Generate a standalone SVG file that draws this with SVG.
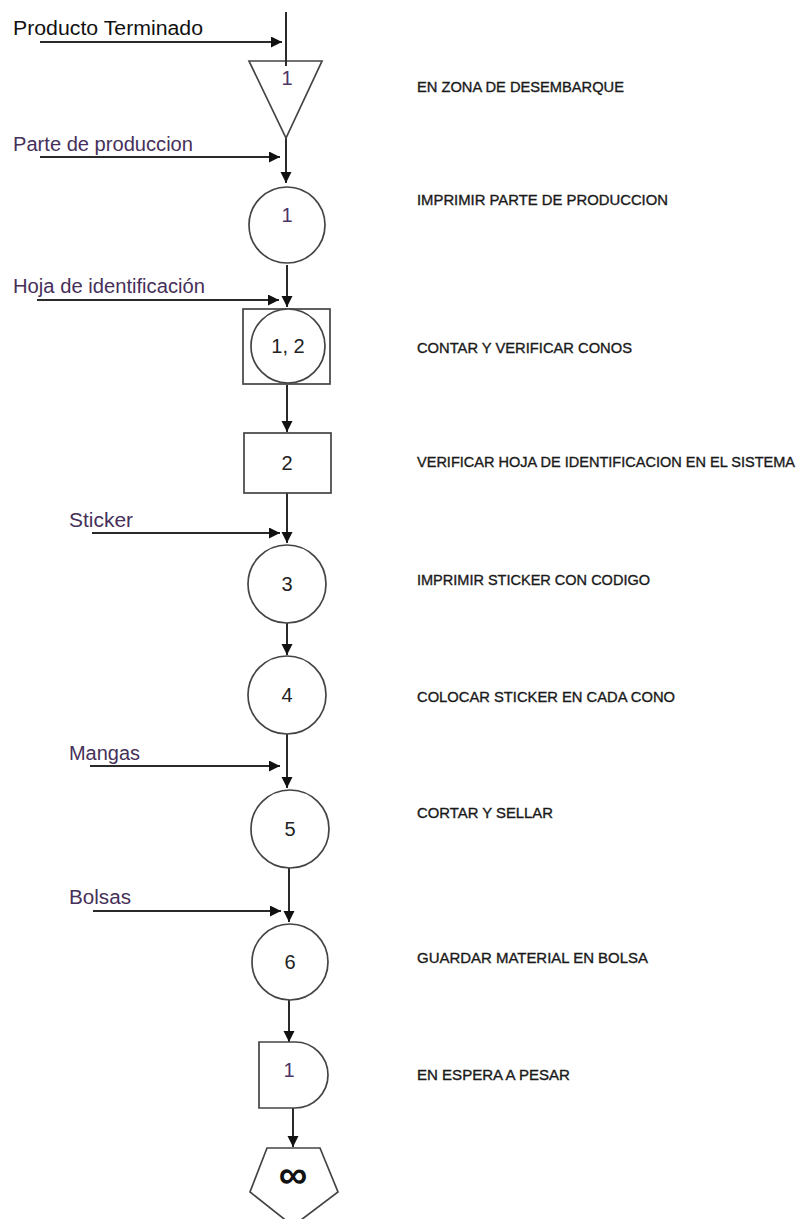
<svg xmlns="http://www.w3.org/2000/svg" width="798" height="1219" viewBox="0 0 798 1219">
  <defs>
    <marker id="arrow" markerWidth="12" markerHeight="12" refX="11" refY="5.5" orient="auto" markerUnits="userSpaceOnUse">
      <path d="M0,0 L11,5.5 L0,11 Z" fill="#111"/>
    </marker>
    <style>
      .shape { fill: #fff; stroke: #444; stroke-width: 1.7; }
      .flow { stroke: #2a2a2a; stroke-width: 2; fill: none; }
      .num { font-family: "Liberation Sans", Arial, sans-serif; font-size: 20px; fill: #222; text-anchor: middle; }
      .input { font-family: "Liberation Sans", Arial, sans-serif; font-size: 20px; fill: #46305a; }
      .desc { font-family: "Liberation Sans", Arial, sans-serif; font-size: 14.5px; fill: #1a1a1a; stroke: #1a1a1a; stroke-width: 0.35; }
    </style>
  </defs>
  <rect width="798" height="1219" fill="#fff"/>

  <!-- connectors -->
  <g id="connectors">
    <line class="flow" x1="286" y1="12" x2="286" y2="62"/>
    <line class="flow" x1="40" y1="42" x2="282" y2="42" marker-end="url(#arrow)"/>
    <line class="flow" x1="286" y1="138" x2="286" y2="183" marker-end="url(#arrow)"/>
    <line class="flow" x1="40" y1="157" x2="280" y2="157" marker-end="url(#arrow)"/>
    <line class="flow" x1="287" y1="265" x2="287" y2="307" marker-end="url(#arrow)"/>
    <line class="flow" x1="37" y1="300" x2="279" y2="300" marker-end="url(#arrow)"/>
    <line class="flow" x1="287" y1="385" x2="287" y2="432" marker-end="url(#arrow)"/>
    <line class="flow" x1="287" y1="493" x2="287" y2="543" marker-end="url(#arrow)"/>
    <line class="flow" x1="92" y1="533" x2="280" y2="533" marker-end="url(#arrow)"/>
    <line class="flow" x1="287" y1="623" x2="287" y2="655" marker-end="url(#arrow)"/>
    <line class="flow" x1="287" y1="734" x2="287" y2="788" marker-end="url(#arrow)"/>
    <line class="flow" x1="90" y1="766" x2="280" y2="766" marker-end="url(#arrow)"/>
    <line class="flow" x1="289" y1="868" x2="289" y2="922" marker-end="url(#arrow)"/>
    <line class="flow" x1="93" y1="911" x2="281" y2="911" marker-end="url(#arrow)"/>
    <line class="flow" x1="289" y1="1000" x2="289" y2="1042" marker-end="url(#arrow)"/>
    <line class="flow" x1="293" y1="1108" x2="293" y2="1147" marker-end="url(#arrow)"/>
  </g>

  <!-- inputs -->
  <g id="input-labels">
    <text class="input" x="13" y="35" style="fill:#111" textLength="190" lengthAdjust="spacingAndGlyphs">Producto Terminado</text>
    <text class="input" x="13" y="151" textLength="180" lengthAdjust="spacingAndGlyphs">Parte de produccion</text>
    <text class="input" x="13" y="293" textLength="192" lengthAdjust="spacingAndGlyphs">Hoja de identificación</text>
    <text class="input" x="69" y="527" textLength="64" lengthAdjust="spacingAndGlyphs">Sticker</text>
    <text class="input" x="69" y="760" textLength="71" lengthAdjust="spacingAndGlyphs">Mangas</text>
    <text class="input" x="69" y="904" textLength="62" lengthAdjust="spacingAndGlyphs">Bolsas</text>
  </g>

  <!-- storage: EN ZONA DE DESEMBARQUE -->
  <g id="storage-1">
    <polygon class="shape" points="249,61 322,61 286,138"/>
    <line class="flow" x1="286" y1="40" x2="286" y2="66"/>
    <text class="num" x="287" y="85" style="fill:#4a3566">1</text>
  </g>

  <g id="op-1">
    <circle class="shape" cx="287" cy="225" r="38"/>
    <text class="num" x="287" y="222" style="fill:#4a3566">1</text>
  </g>

  <g id="combined-1-2">
    <rect class="shape" x="243" y="309" width="87" height="75"/>
    <circle class="shape" cx="288" cy="346" r="37"/>
    <text class="num" x="288" y="353">1, 2</text>
  </g>

  <g id="insp-2">
    <rect class="shape" x="244" y="433" width="87" height="60"/>
    <text class="num" x="287" y="470">2</text>
  </g>

  <g id="op-3">
    <circle class="shape" cx="287" cy="584" r="39"/>
    <text class="num" x="287" y="591">3</text>
  </g>

  <g id="op-4">
    <circle class="shape" cx="287" cy="695" r="39"/>
    <text class="num" x="287" y="702">4</text>
  </g>

  <g id="op-5">
    <circle class="shape" cx="290" cy="829" r="39"/>
    <text class="num" x="290" y="836">5</text>
  </g>

  <g id="op-6">
    <circle class="shape" cx="290" cy="962" r="38"/>
    <text class="num" x="290" y="969">6</text>
  </g>

  <g id="delay-1">
    <path class="shape" d="M259,1042 L295,1042 A33,33 0 0 1 295,1108 L259,1108 Z"/>
    <text class="num" x="289" y="1077" style="fill:#4a3566">1</text>
  </g>

  <g id="final-storage">
    <polygon class="shape" points="267,1148 320,1148 338,1192 293,1226 250,1192"/>
    <text class="num" x="293" y="1188" style="font-size:40px;font-weight:bold;fill:#111">∞</text>
  </g>

  <!-- step descriptions -->
  <g id="descriptions">
    <text class="desc" x="417" y="92" textLength="207" lengthAdjust="spacingAndGlyphs">EN ZONA DE DESEMBARQUE</text>
    <text class="desc" x="417" y="205" textLength="251" lengthAdjust="spacingAndGlyphs">IMPRIMIR PARTE DE PRODUCCION</text>
    <text class="desc" x="417" y="353" textLength="215" lengthAdjust="spacingAndGlyphs">CONTAR Y VERIFICAR CONOS</text>
    <text class="desc" x="417" y="467" textLength="378" lengthAdjust="spacingAndGlyphs">VERIFICAR HOJA DE IDENTIFICACION EN EL SISTEMA</text>
    <text class="desc" x="417" y="585" textLength="233" lengthAdjust="spacingAndGlyphs">IMPRIMIR STICKER CON CODIGO</text>
    <text class="desc" x="417" y="702" textLength="258" lengthAdjust="spacingAndGlyphs">COLOCAR STICKER EN CADA CONO</text>
    <text class="desc" x="417" y="818" textLength="136" lengthAdjust="spacingAndGlyphs">CORTAR Y SELLAR</text>
    <text class="desc" x="417" y="963" textLength="231" lengthAdjust="spacingAndGlyphs">GUARDAR MATERIAL EN BOLSA</text>
    <text class="desc" x="417" y="1080" textLength="153" lengthAdjust="spacingAndGlyphs">EN ESPERA A PESAR</text>
  </g>
</svg>
